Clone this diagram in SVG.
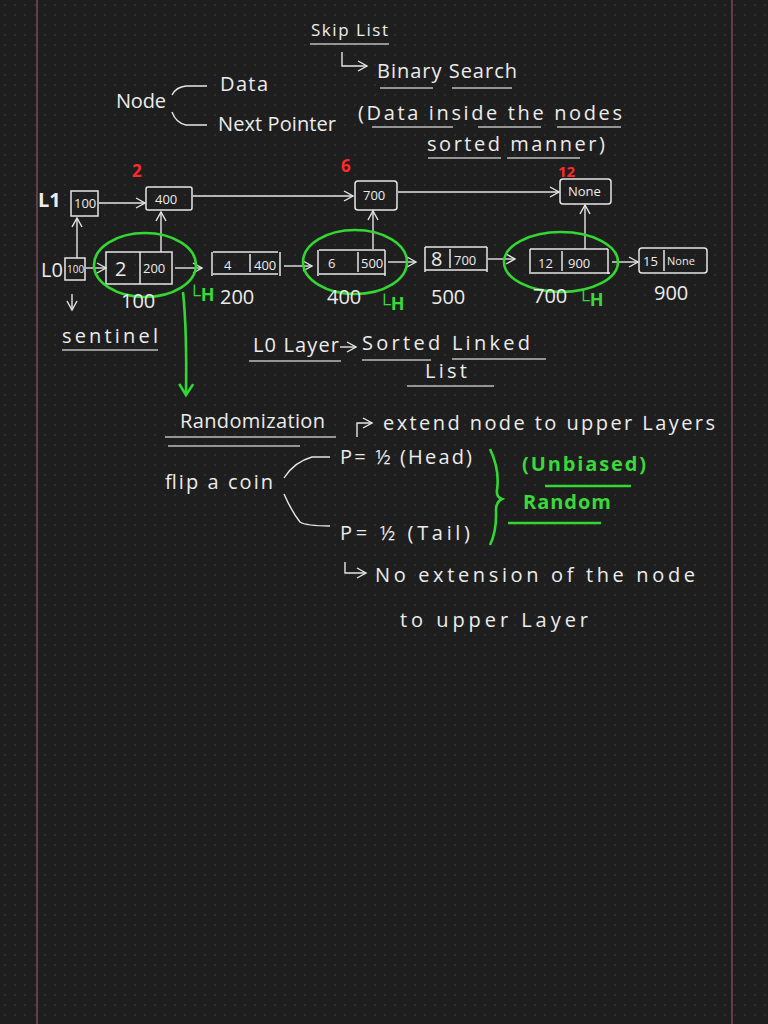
<svg xmlns="http://www.w3.org/2000/svg" width="768" height="1024" viewBox="0 0 768 1024">
<defs>
<pattern id="dots" width="10" height="10" patternUnits="userSpaceOnUse">
<rect x="4" y="4" width="2" height="2" fill="#2c2c2c"/>
</pattern>
<marker id="ah" markerWidth="12" markerHeight="12" refX="10" refY="6" orient="auto" markerUnits="userSpaceOnUse">
<path d="M1,1 L10,6 L1,11" fill="none" stroke="#e6e6e6" stroke-width="1.4"/>
</marker>
<marker id="ahg" markerWidth="16" markerHeight="18" refX="13" refY="9" orient="auto" markerUnits="userSpaceOnUse">
<path d="M2,2 L13,9 L2,16" fill="none" stroke="#33d633" stroke-width="2.6"/>
</marker>
<style>
text{font-family:"Open Sans","Liberation Sans",sans-serif;fill:#ececec;}
.t{font-size:20px;}
.s{font-size:13px;}
.red{fill:#ff2a2a;font-size:17px;font-weight:bold;}
.gt{fill:#3ad83a;font-size:20px;font-weight:bold;}
.ln{stroke:#e6e6e6;stroke-width:1.4;fill:none;}
.ul{stroke:#bdbdbd;stroke-width:1.3;fill:none;}
.box{stroke:#e6e6e6;stroke-width:1.5;fill:none;}
.g{stroke:#33d633;stroke-width:2.6;fill:none;}
.gh{fill:#3ad83a;font-size:18px;font-weight:bold;}
</style>
</defs>
<rect width="768" height="1024" fill="#1e1e1e"/>
<rect width="768" height="1024" fill="url(#dots)"/>
<line x1="37" y1="0" x2="37" y2="1024" stroke="#7a4a5c" stroke-width="1.5"/>
<line x1="732" y1="0" x2="732" y2="1024" stroke="#7a4a5c" stroke-width="1.5"/>

<g id="header">
<text class="t" x="311" y="36" textLength="77" style="font-size:17px">Skip List</text>
<line class="ul" x1="310" y1="44" x2="389" y2="44"/>
<text class="t" x="377" y="78" textLength="140">Binary Search</text>
<line class="ul" x1="380" y1="88" x2="433" y2="88"/>
<line class="ul" x1="452" y1="88" x2="512" y2="88"/>
<text class="t" x="116" y="108" textLength="50">Node</text>
<text class="t" x="220" y="91" textLength="48">Data</text>
<text class="t" x="218" y="131" textLength="118">Next Pointer</text>
<text class="t" x="358" y="120" textLength="264">(Data inside the nodes</text>
<line class="ul" x1="372" y1="127" x2="453" y2="127"/>
<line class="ul" x1="478" y1="127" x2="541" y2="127"/>
<line class="ul" x1="557" y1="127" x2="621" y2="127"/>
<text class="t" x="427" y="151" textLength="178">sorted manner)</text>
<line class="ul" x1="428" y1="158" x2="501" y2="158"/>
<line class="ul" x1="507" y1="158" x2="580" y2="158"/>
</g>

<g id="connectors">
<path class="ln" d="M342,52 V66 H367" marker-end="url(#ah)"/>
<path class="ln" d="M207,86 H186 Q176,87 172,95"/>
<path class="ln" d="M172,112 Q176,123 186,125 H207"/>
<line class="ln" x1="99" y1="203" x2="145" y2="203" marker-end="url(#ah)"/>
<line class="ln" x1="193" y1="196" x2="353" y2="196" marker-end="url(#ah)"/>
<line class="ln" x1="398" y1="192" x2="559" y2="192" marker-end="url(#ah)"/>
<line class="ln" x1="77" y1="258" x2="77" y2="218" marker-end="url(#ah)"/>
<line class="ln" x1="161" y1="252" x2="161" y2="212" marker-end="url(#ah)"/>
<line class="ln" x1="373" y1="249" x2="373" y2="211" marker-end="url(#ah)"/>
<line class="ln" x1="585" y1="249" x2="585" y2="205" marker-end="url(#ah)"/>
<line class="ln" x1="86" y1="268" x2="106" y2="268" marker-end="url(#ah)"/>
<line class="ln" x1="175" y1="268" x2="202" y2="268" marker-end="url(#ah)"/>
<line class="ln" x1="284" y1="266" x2="312" y2="266" marker-end="url(#ah)"/>
<line class="ln" x1="388" y1="262" x2="416" y2="262" marker-end="url(#ah)"/>
<line class="ln" x1="488" y1="259" x2="515" y2="259" marker-end="url(#ah)"/>
<line class="ln" x1="612" y1="262" x2="638" y2="262" marker-end="url(#ah)"/>
<line class="ln" x1="72" y1="294" x2="72" y2="310" marker-end="url(#ah)"/>
<path class="g" d="M183,292 Q187,330 186,395" marker-end="url(#ahg)"/>
<path class="ln" d="M357,437 V423 H372" marker-end="url(#ah)"/>
<path class="ln" d="M330,457 H312 Q294,462 284,478"/>
<path class="ln" d="M284,494 Q292,512 300,522 Q306,526 330,526"/>
<path class="ln" d="M345,562 V573 H366" marker-end="url(#ah)"/>
<line class="ln" x1="340" y1="347" x2="356" y2="347" marker-end="url(#ah)"/>
</g>

<g id="L1-head">
<text class="t" x="38" y="207" font-weight="bold">L1</text>
<rect class="box" x="71" y="191" width="27" height="25"/>
<text class="s" x="74" y="208">100</text>
</g>
<g id="L1-node-400">
<text class="red" x="132" y="177">2</text>
<rect class="box" x="146" y="187" width="46" height="23" rx="2"/>
<text class="s" x="155" y="204">400</text>
</g>
<g id="L1-node-700">
<text class="red" x="341" y="172">6</text>
<rect class="box" x="355" y="181" width="42" height="29" rx="3"/>
<text class="s" x="363" y="200">700</text>
</g>
<g id="L1-node-none">
<text class="red" x="558" y="177" style="font-size:15px">12</text>
<rect class="box" x="560" y="179" width="51" height="25" rx="3"/>
<text class="s" x="568" y="196">None</text>
</g>

<g id="L0-head">
<text class="t" x="41" y="277">L0</text>
<rect class="box" x="65" y="258" width="20" height="22"/>
<text x="67" y="273" font-size="10">100</text>
<text class="t" x="62" y="343" textLength="96">sentinel</text>
<line class="ul" x1="62" y1="350" x2="158" y2="350"/>
</g>
<g id="L0-node-2">
<rect class="box" x="106" y="252" width="66" height="32"/>
<line class="box" x1="140" y1="252" x2="140" y2="284"/>
<text class="t" x="115" y="276">2</text>
<text class="s" x="143" y="273">200</text>
<ellipse class="g" cx="145" cy="265" rx="51" ry="32"/>
<text class="t" x="121" y="308">100</text>
<text class="gh" x="188" y="301">└H</text>
</g>
<g id="L0-node-4">
<path class="box" d="M212,252 V276 M280,252 V276 M213,252 H278 M213,274 H278 M250,254 V272"/>
<text class="s" x="224" y="270">4</text>
<text class="s" x="254" y="270">400</text>
<text class="t" x="220" y="304">200</text>
</g>
<g id="L0-node-6">
<path class="box" d="M318,250 V276 M385,250 V276 M319,250 H385 M319,274 H385 M358,252 V272"/>
<text class="s" x="328" y="268">6</text>
<text class="s" x="361" y="268">500</text>
<ellipse class="g" cx="355" cy="262" rx="52" ry="32"/>
<text class="t" x="327" y="304">400</text>
<text class="gh" x="378" y="310">└H</text>
</g>
<g id="L0-node-8">
<path class="box" d="M425,247 V272 M487,247 V272 M425,247 H487 M425,270 H487 M450,249 V268"/>
<text class="t" x="431" y="266">8</text>
<text class="s" x="454" y="265">700</text>
<text class="t" x="431" y="304">500</text>
</g>
<g id="L0-node-12">
<path class="box" d="M530,249 V274 M608,249 V274 M530,249 H608 M531,273 H610 M562,251 V271"/>
<text class="s" x="538" y="268">12</text>
<text class="s" x="568" y="268">900</text>
<ellipse class="g" cx="561" cy="262" rx="57" ry="30"/>
<text class="t" x="533" y="303">700</text>
<text class="gh" x="577" y="306">└H</text>
</g>
<g id="L0-node-15">
<rect class="box" x="639" y="248" width="68" height="25" rx="3"/>
<line class="box" x1="664" y1="250" x2="664" y2="271"/>
<text class="s" x="643" y="266">15</text>
<text x="667" y="265" font-size="11">None</text>
<text class="t" x="654" y="300">900</text>
</g>

<g id="L0-layer-note">
<text class="t" x="253" y="352" textLength="86">L0 Layer</text>
<text class="t" x="362" y="350" textLength="168">Sorted Linked</text>
<line class="ul" x1="249" y1="361" x2="341" y2="361"/>
<line class="ul" x1="362" y1="360" x2="431" y2="360"/>
<line class="ul" x1="452" y1="359" x2="546" y2="359"/>
<text class="t" x="425" y="378" textLength="42">List</text>
<line class="ul" x1="407" y1="386" x2="494" y2="386"/>
</g>

<g id="randomization">
<text class="t" x="180" y="428" textLength="145">Randomization</text>
<line class="ul" x1="165" y1="437" x2="336" y2="437"/>
<line class="ul" x1="168" y1="446" x2="300" y2="446"/>
<text class="t" x="383" y="430" textLength="332">extend node to upper Layers</text>
<text class="t" x="165" y="489" textLength="108">flip a coin</text>
<text class="t" x="340" y="464" textLength="132">P= ½ (Head)</text>
<text class="t" x="340" y="540" textLength="130">P= ½ (Tail)</text>
<path class="g" d="M490,449 Q500,470 497,490 Q496,497 502,499 Q496,502 496,510 Q497,530 490,545"/>
<text class="gt" x="522" y="471" textLength="124">(Unbiased)</text>
<line class="g" x1="545" y1="486" x2="631" y2="486" stroke-width="2"/>
<text class="gt" x="523" y="509" textLength="88">Random</text>
<line class="g" x1="508" y1="523" x2="601" y2="523" stroke-width="2"/>
<text class="t" x="375" y="582" textLength="320">No extension of the node</text>
<text class="t" x="400" y="627" textLength="188">to upper Layer</text>
</g>
</svg>
